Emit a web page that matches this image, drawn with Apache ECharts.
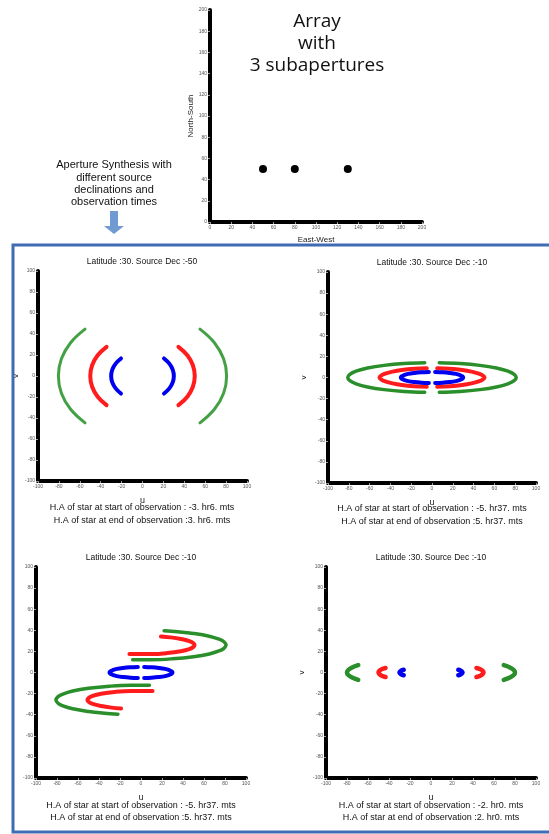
<!DOCTYPE html>
<html>
<head>
<meta charset="utf-8">
<script src="https://cdn.jsdelivr.net/npm/echarts@6/dist/echarts.min.js"></script>
<style>
  html,body{margin:0;padding:0;background:#fff;}
  #main{width:549px;height:834px;}
</style>
</head>
<body>
<div id="main"></div>
<script>
// array layout (top plot)
var arrayX = [50, 80, 130];
var arrayY = [50, 50, 50];

// panel 1 : Dec -50, H.A -3h6 .. 3h6
var p1BlueR = [[20.6,16.7],[25.7,11.8],[28.9,6.1],[30,0],[28.9,-6.1],[25.7,-11.8],[20.6,-16.7]];
var p1BlueL = [[-20.6,16.7],[-25.7,11.8],[-28.9,6.1],[-30,0],[-28.9,-6.1],[-25.7,-11.8],[-20.6,-16.7]];
var p1RedR = [[34.4,27.8],[42.9,19.7],[48.2,10.2],[50,0],[48.2,-10.2],[42.9,-19.7],[34.4,-27.8]];
var p1RedL = [[-34.4,27.8],[-42.9,19.7],[-48.2,10.2],[-50,0],[-48.2,-10.2],[-42.9,-19.7],[-34.4,-27.8]];
var p1GreenR = [[55,44.6],[68.8,31.7],[77.6,16.4],[80.5,0],[77.6,-16.4],[68.8,-31.7],[55,-44.6]];
var p1GreenL = [[-55,44.6],[-68.8,31.7],[-77.6,16.4],[-80.5,0],[-77.6,-16.4],[-68.8,-31.7],[-55,-44.6]];

// panel 2 : Dec -10, H.A -5h37 .. 5h37
var p2BlueR = [[3,5.2],[10,4.9],[17,4.3],[23,3.4],[27,2.2],[29.3,1.1],[30,0],[29.3,-1.1],[27,-2.2],[23,-3.4],[17,-4.3],[10,-4.9],[3,-5.2]];
var p2BlueL = [[-3,5.2],[-10,4.9],[-17,4.3],[-23,3.4],[-27,2.2],[-29.3,1.1],[-30,0],[-29.3,-1.1],[-27,-2.2],[-23,-3.4],[-17,-4.3],[-10,-4.9],[-3,-5.2]];
var p2RedR = [[5,8.7],[17,8.2],[29,7.1],[38,5.6],[45,3.7],[49,1.8],[50.5,0],[49,-1.8],[45,-3.7],[38,-5.6],[29,-7.1],[17,-8.2],[5,-8.7]];
var p2RedL = [[-5,8.7],[-17,8.2],[-29,7.1],[-38,5.6],[-45,3.7],[-49,1.8],[-50.5,0],[-49,-1.8],[-45,-3.7],[-38,-5.6],[-29,-7.1],[-17,-8.2],[-5,-8.7]];
var p2GreenR = [[7,14],[27,13.2],[46,11.5],[62,9],[73,6],[79,3],[81,0],[79,-3],[73,-6],[62,-9],[46,-11.5],[27,-13.2],[7,-14]];
var p2GreenL = [[-7,14],[-27,13.2],[-46,11.5],[-62,9],[-73,6],[-79,3],[-81,0],[-79,-3],[-73,-6],[-62,-9],[-46,-11.5],[-27,-13.2],[-7,-14]];

// panel 3 : Dec -10, H.A -5h37 .. 5h37 (shifted tracks)
var p3RedUp = [[-11,17.5],[10,17.5],[25,18.4],[38,20.2],[46,22.2],[50,24.3],[51,26],[50,27.7],[46,29.8],[38,31.8],[28,33.3],[19,34.1]];
var p3RedDown = [[11,-17.5],[-10,-17.5],[-25,-18.4],[-38,-20.2],[-46,-22.2],[-50,-24.3],[-51,-26],[-50,-27.7],[-46,-29.8],[-38,-31.8],[-28,-33.3],[-19,-34.1]];
var p3GreenUp = [[-8,12.1],[10,12.1],[30,13],[50,15],[65,17.6],[75,20.7],[79,22.9],[81,26],[79,29.1],[75,31.3],[65,34.4],[50,37],[35,38.6],[22,39.5]];
var p3GreenDown = [[8,-12.1],[-10,-12.1],[-30,-13],[-50,-15],[-65,-17.6],[-75,-20.7],[-79,-22.9],[-81,-26],[-79,-29.1],[-75,-31.3],[-65,-34.4],[-50,-37],[-35,-38.6],[-22,-39.5]];

// panel 4 : Dec -10, H.A -2h0 .. 2h0
var p4BlueR = [[26,2.6],[28.2,1.8],[29.5,0.9],[30,0],[29.5,-0.9],[28.2,-1.8],[26,-2.6]];
var p4BlueL = [[-26,2.6],[-28.2,1.8],[-29.5,0.9],[-30,0],[-29.5,-0.9],[-28.2,-1.8],[-26,-2.6]];
var p4RedR = [[43.3,4.3],[47,3],[49.2,1.5],[50,0],[49.2,-1.5],[47,-3],[43.3,-4.3]];
var p4RedL = [[-43.3,4.3],[-47,3],[-49.2,1.5],[-50,0],[-49.2,-1.5],[-47,-3],[-43.3,-4.3]];
var p4GreenR = [[69.3,7],[75.2,4.8],[78.8,2.4],[80,0],[78.8,-2.4],[75.2,-4.8],[69.3,-7]];
var p4GreenL = [[-69.3,7],[-75.2,4.8],[-78.8,2.4],[-80,0],[-78.8,-2.4],[-75.2,-4.8],[-69.3,-7]];

var panelTitles = ['Latitude :30. Source Dec :-50','Latitude :30. Source Dec :-10','Latitude :30. Source Dec :-10','Latitude :30. Source Dec :-10'];
var startLines = ['H.A of star at start of observation : -3. hr6. mts','H.A of star at start of observation : -5. hr37. mts','H.A of star at start of observation : -5. hr37. mts','H.A of star at start of observation : -2. hr0. mts'];
var endLines = ['H.A of star at end of observation :3. hr6. mts','H.A of star at end of observation :5. hr37. mts','H.A of star at end of observation :5. hr37. mts','H.A of star at end of observation :2. hr0. mts'];

var BLUE = '#0000f0', RED = '#ff1c1c', GREEN = '#2a8f2a', LIGHTGREEN = '#44a044';
var txtFont = '"Liberation Sans", Arial, sans-serif';

// grids : top array plot + 4 uv panels
var grids = [
	{left:210, top:10, width:212, height:212},
	{left:38, top:271, width:209, height:210},
	{left:328, top:272, width:208, height:211},
	{left:36, top:567, width:210, height:211},
	{left:326, top:567, width:210, height:211}
];

function makeAxis(idx, min, max, name, gap, isY){
	return {
		gridIndex: idx,
		type: 'value',
		min: min, max: max, interval: 20,
		name: name,
		nameLocation: 'middle',
		nameGap: gap,
		nameTextStyle: {fontSize: isY ? 8 : 9, color: '#222', fontFamily: txtFont},
		axisLine: {show: true, onZero: false, lineStyle: {color: '#000', width: 4}},
		axisTick: {show: true, length: 2, lineStyle: {color: '#999'}},
		axisLabel: {fontSize: 5, color: '#555', margin: 3, fontFamily: txtFont},
		splitLine: {show: false}
	};
}

var xAxes = [makeAxis(0, 0, 200, 'East-West', 14, false)];
var yAxes = [makeAxis(0, 0, 200, 'North-South', 15, true)];
xAxes[0].nameTextStyle.fontSize = 8;
for (var i = 1; i <= 4; i++) {
	xAxes.push(makeAxis(i, -100, 100, 'u', 15, false));
	yAxes.push(makeAxis(i, -100, 100, i == 3 ? '' : 'v', i == 1 ? 18 : 20, true));
}

function arc(idx, data, color, width){
	return {
		type: 'line',
		xAxisIndex: idx, yAxisIndex: idx,
		data: data,
		smooth: 0.4,
		symbol: 'none',
		lineStyle: {color: color, width: width, cap: 'round'}
	};
}

var series = [
	{
		type: 'scatter', xAxisIndex: 0, yAxisIndex: 0,
		data: arrayX.map(function(x, k){ return [x, arrayY[k]]; }),
		symbolSize: 8,
		itemStyle: {color: '#000', opacity: 1}
	},
	arc(1, p1GreenR, LIGHTGREEN, 3), arc(1, p1GreenL, LIGHTGREEN, 3),
	arc(1, p1RedR, RED, 4), arc(1, p1RedL, RED, 4),
	arc(1, p1BlueR, BLUE, 4), arc(1, p1BlueL, BLUE, 4),

	arc(2, p2GreenR, GREEN, 3.5), arc(2, p2GreenL, GREEN, 3.5),
	arc(2, p2RedR, RED, 4), arc(2, p2RedL, RED, 4),
	arc(2, p2BlueR, BLUE, 4), arc(2, p2BlueL, BLUE, 4),

	arc(3, p3GreenUp, GREEN, 3.5), arc(3, p3GreenDown, GREEN, 3.5),
	arc(3, p3RedUp, RED, 4), arc(3, p3RedDown, RED, 4),
	arc(3, p2BlueR, BLUE, 4), arc(3, p2BlueL, BLUE, 4),

	arc(4, p4GreenR, GREEN, 4.5), arc(4, p4GreenL, GREEN, 4.5),
	arc(4, p4RedR, RED, 4.5), arc(4, p4RedL, RED, 4.5),
	arc(4, p4BlueR, BLUE, 4.5), arc(4, p4BlueL, BLUE, 4.5)
];

function label(x, y, text, size, font){
	return {
		type: 'text', x: x, y: y, z: 10,
		style: {text: text, fontSize: size, fontFamily: font || txtFont, fill: '#111', align: 'center', verticalAlign: 'middle'}
	};
}

var graphics = [
	{type: 'rect', z: 20, shape: {x: 13, y: 245, width: 540, height: 587},
	 style: {fill: 'none', stroke: '#3e6db4', lineWidth: 3}},
	label(317, 22, 'Array', 19, '"Open Sans", sans-serif'),
	label(317, 44, 'with', 19, '"Open Sans", sans-serif'),
	label(317, 66, '3 subapertures', 19, '"Open Sans", sans-serif'),
	label(114, 165, 'Aperture Synthesis with', 11),
	label(114, 178, 'different source', 11),
	label(114, 190, 'declinations and', 11),
	label(114, 202, 'observation times', 11),
	{type: 'polygon', z: 10,
	 shape: {points: [[110,211],[118,211],[118,226],[124,226],[114,234],[104,226],[110,226]]},
	 style: {fill: '#6f9bd2'}}
];

var centers = [[142, 262, 508, 521], [432, 263, 509, 522], [141, 558, 806, 818], [431, 558, 806, 818]];
for (var j = 0; j < 4; j++) {
	var c = centers[j];
	graphics.push(label(c[0], c[1], panelTitles[j], 8.5));
	graphics.push(label(c[0], c[2], startLines[j], 9));
	graphics.push(label(c[0], c[3], endLines[j], 9));
}

var myChart = echarts.init(document.getElementById('main'), null, {renderer: 'canvas'});
var option = {
	animation: false,
	backgroundColor: '#fff',
	grid: grids,
	xAxis: xAxes,
	yAxis: yAxes,
	series: series,
	graphic: graphics
};
myChart.setOption(option);
</script>
</body>
</html>
